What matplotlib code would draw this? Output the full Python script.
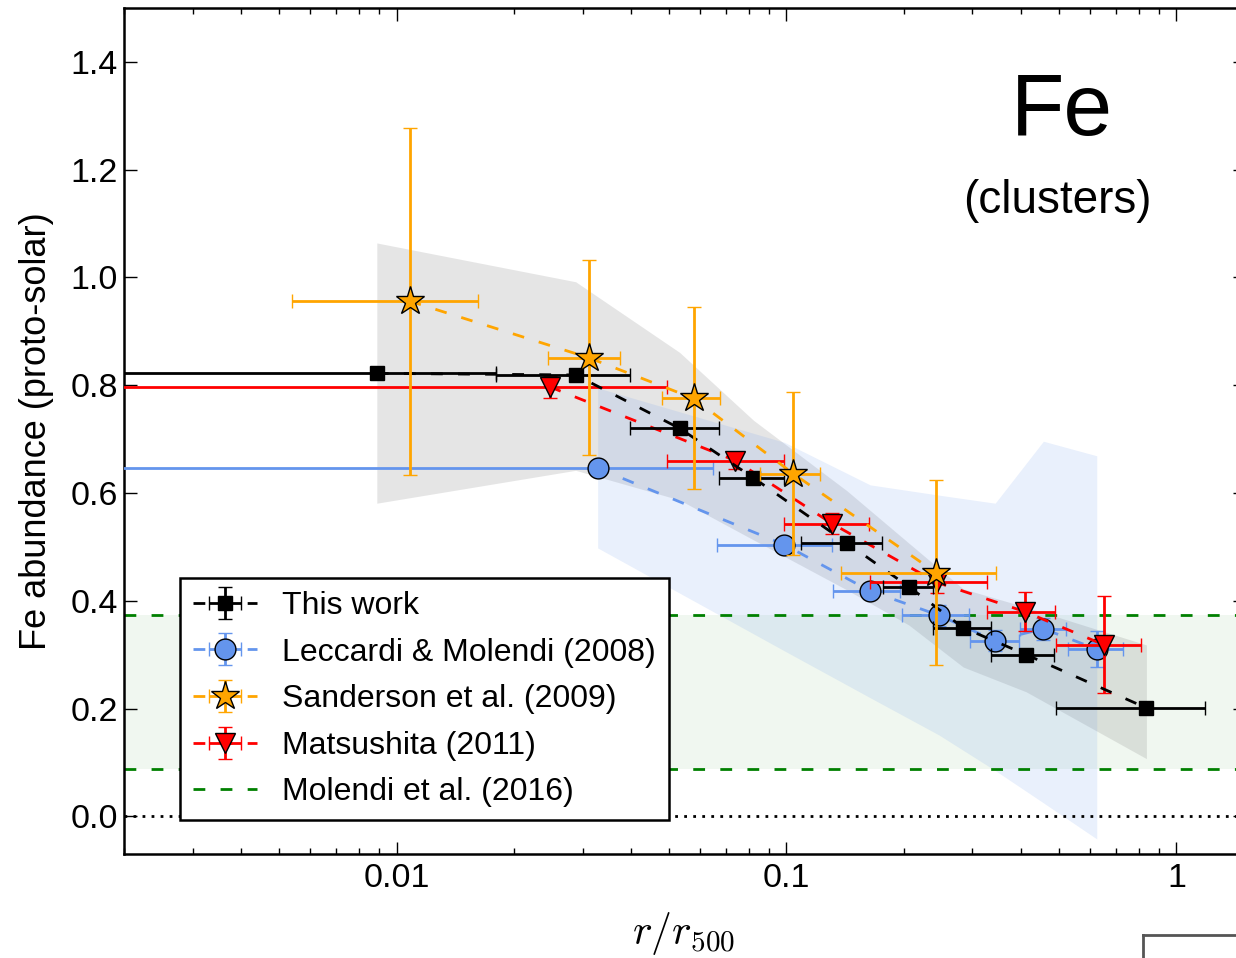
import matplotlib
matplotlib.use("Agg")
import matplotlib.pyplot as plt
import numpy as np

plt.rcParams["font.family"] = ["Liberation Sans", "DejaVu Sans"]
plt.rcParams["mathtext.fontset"] = "cm"
plt.rcParams["lines.scale_dashes"] = False
plt.rcParams["lines.dashed_pattern"] = [8.5, 11]

# This work
this_r = [0.0089, 0.0288, 0.0532, 0.0823, 0.143, 0.206, 0.284, 0.412, 0.838]
this_fe = [0.822, 0.819, 0.720, 0.628, 0.507, 0.426, 0.350, 0.300, 0.201]
this_rmin = [0.0, 0.018, 0.0396, 0.0672, 0.1087, 0.177, 0.237, 0.334, 0.49]
this_rmax = [0.018, 0.0396, 0.0672, 0.0983, 0.176, 0.237, 0.334, 0.486, 1.186]
this_err = [0.01, 0.01, 0.01, 0.01, 0.01, 0.01, 0.01, 0.01, 0.01]
this_hi = [1.064, 0.992, 0.861, 0.735, 0.604, 0.507, 0.422, 0.388, 0.318]
this_lo = [0.581, 0.642, 0.587, 0.513, 0.420, 0.355, 0.277, 0.231, 0.107]

# Leccardi & Molendi (2008)
lm_r = [0.0328, 0.0988, 0.164, 0.246, 0.343, 0.456, 0.625]
lm_fe = [0.646, 0.504, 0.418, 0.373, 0.326, 0.348, 0.310]
lm_rmin = [0.0, 0.0664, 0.132, 0.198, 0.296, 0.398, 0.527]
lm_rmax = [0.065, 0.131, 0.196, 0.294, 0.394, 0.522, 0.731]
lm_err = [0.01, 0.01, 0.015, 0.02, 0.02, 0.02, 0.033]
lm_hi = [0.795, 0.694, 0.615, 0.596, 0.581, 0.696, 0.669]
lm_lo = [0.498, 0.307, 0.220, 0.151, 0.085, 0.025, -0.042]

# Sanderson et al. (2009)
sa_r = [0.0108, 0.0311, 0.0578, 0.104, 0.242]
sa_fe = [0.956, 0.851, 0.7755, 0.636, 0.452]
sa_rmin = [0.0054, 0.0244, 0.048, 0.0857, 0.138]
sa_rmax = [0.0162, 0.0375, 0.0677, 0.1216, 0.345]
sa_err = [0.322, 0.181, 0.169, 0.152, 0.172]

# Matsushita (2011)
ma_r = [0.0247, 0.074, 0.131, 0.243, 0.408, 0.653]
ma_fe = [0.797, 0.660, 0.543, 0.434, 0.380, 0.318]
ma_rmin = [0.0, 0.0495, 0.0985, 0.164, 0.327, 0.49]
ma_rmax = [0.0495, 0.0985, 0.1625, 0.3265, 0.487, 0.81]
ma_err = [0.02, 0.015, 0.02, 0.02, 0.036, 0.09]

# Molendi et al. (2016)
mo_lo = 0.0872
mo_hi = 0.3735


def xerrs(r, rmin, rmax):
    r = np.array(r)
    lo = np.maximum(np.array(rmin), 1e-4)
    return [r - lo, np.array(rmax) - r]


fig = plt.figure(figsize=(12.36, 9.58), dpi=100)
ax = fig.add_axes([124 / 1236, 104 / 958, 1121 / 1236, 846 / 958])

# bandes
ax.fill_between(this_r, this_lo, this_hi, color="gray", alpha=0.2, lw=0, zorder=1)
ax.fill_between(lm_r, lm_lo, lm_hi, color="cornflowerblue", alpha=0.14, lw=0, zorder=1)
ax.axhspan(mo_lo, mo_hi, color="green", alpha=0.06, lw=0, zorder=0.5)
ax.axhline(mo_lo, color="green", ls="--", lw=2, zorder=2)
h_mo, = ax.plot([], [], color="green", ls="--", lw=2)
ax.axhline(mo_hi, color="green", ls="--", lw=2, zorder=2)
ax.axhline(0, color="k", lw=2, dashes=(2, 4.5), zorder=2)

kw = dict(capsize=5, elinewidth=2, capthick=2, lw=2, mec="k", mew=1)
h_lm = ax.errorbar(lm_r, lm_fe, xerr=xerrs(lm_r, lm_rmin, lm_rmax), yerr=lm_err,
                   fmt="o--", color="cornflowerblue", mfc="cornflowerblue", ms=15,
                   zorder=3, **kw)
h_ma = ax.errorbar(ma_r, ma_fe, xerr=xerrs(ma_r, ma_rmin, ma_rmax), yerr=ma_err,
                   fmt="v--", color="red", mfc="red", ms=15, zorder=4, **kw)
h_tw = ax.errorbar(this_r, this_fe, xerr=xerrs(this_r, this_rmin, this_rmax), yerr=this_err,
                   fmt="s--", color="k", mfc="k", ms=10, zorder=5, **kw)
h_sa = ax.errorbar(sa_r, sa_fe, xerr=xerrs(sa_r, sa_rmin, sa_rmax), yerr=sa_err,
                   fmt="*--", color="orange", mfc="orange", ms=21, zorder=6, **kw)

ax.set_xscale("log")
ax.set_xlim(0.002, 1.5)
ax.set_ylim(-0.07, 1.5)
ax.set_xticks([0.01, 0.1, 1])
ax.set_xticklabels(["0.01", "0.1", "1"])
ax.set_yticks(np.arange(0, 1.41, 0.2))
ax.set_yticklabels([f"{v:.1f}" for v in np.arange(0, 1.41, 0.2)])
ax.tick_params(which="both", direction="in", top=True, right=True, labelsize=24.5)
ax.tick_params(which="major", length=9, width=1)
ax.tick_params(which="minor", length=4.5, width=1)
ax.tick_params(axis="x", pad=6.5)
ax.tick_params(axis="y", pad=4.5)
for s in ax.spines.values():
    s.set_linewidth(1.8)

ax.set_ylabel("Fe abundance (proto-solar)", fontsize=26)
ax.yaxis.set_label_coords(-0.062, 0.5)
ax.set_xlabel(r"$r/r_{500}$", fontsize=30)
ax.xaxis.set_label_coords(0.499, -0.066)

ax.text(0.837, 0.877, "Fe", transform=ax.transAxes, fontsize=63, ha="center", va="center")
ax.text(0.833, 0.772, "(clusters)", transform=ax.transAxes, fontsize=33, ha="center", va="center")

leg = ax.legend([h_tw, h_lm, h_sa, h_ma, h_mo],
                ["This work", "Leccardi & Molendi (2008)", "Sanderson et al. (2009)",
                 "Matsushita (2011)", "Molendi et al. (2016)"],
                loc="lower left", bbox_to_anchor=(0.05, 0.04), borderaxespad=0,
                fontsize=23, fancybox=False, framealpha=1, edgecolor="k",
                labelspacing=0.52, handlelength=2.0, handletextpad=0.8, borderpad=0.4)
leg.get_frame().set_linewidth(1.8)
leg.set_zorder(10)

# coin du panneau voisin
ax2 = fig.add_axes([1143 / 1236, -0.5, 0.3, 0.5 + 23 / 958])
ax2.set_xticks([])
ax2.set_yticks([])
for s in ax2.spines.values():
    s.set_color("#555555")
    s.set_linewidth(2)

fig.savefig("out.png", dpi=100)
